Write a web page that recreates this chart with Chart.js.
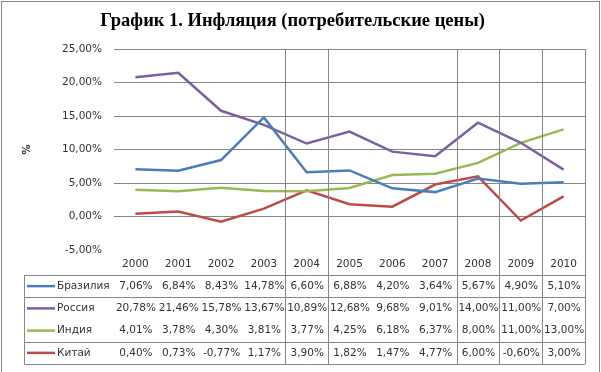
<!DOCTYPE html>
<html><head><meta charset="utf-8">
<script src="https://cdn.jsdelivr.net/npm/chart.js@4.4.0/dist/chart.umd.min.js"></script>
<style>html,body{margin:0;padding:0;background:#fff;}canvas{display:block;}</style>
</head><body>
<canvas id="c" width="601" height="372"></canvas>
<script>
const years = ['2000','2001','2002','2003','2004','2005','2006','2007','2008','2009','2010'];
const seriesNames = ['Бразилия','Россия','Индия','Китай'];
const brazil = [7.06,6.84,8.43,14.78,6.60,6.88,4.20,3.64,5.67,4.90,5.10];
const russia = [20.78,21.46,15.78,13.67,10.89,12.68,9.68,9.01,14.00,11.00,7.00];
const india = [4.01,3.78,4.30,3.81,3.77,4.25,6.18,6.37,8.00,11.00,13.00];
const china = [0.40,0.73,-0.77,1.17,3.90,1.82,1.47,4.77,6.00,-0.60,3.00];
const yTicks = [-5,0,5,10,15,20,25];
const colors = ['#4A7EBB','#7D60A0','#98B954','#BE4B48'];
const titleText = 'График 1. Инфляция (потребительские цены)';
const yTitle = '%';

const fmt = v => v.toFixed(2).replace('.', ',') + '%';
const FONT = '"DejaVu Sans", sans-serif';
const TXT = '#333333';
const GRID = '#868686';
const vLineIdx = [4,5,8,9,10,11];

const tablePlugin = {
  id: 'tablePlugin',
  beforeDraw(chart) {
    const ctx = chart.ctx;
    ctx.save();
    ctx.fillStyle = '#fff';
    ctx.fillRect(0,0,chart.width,chart.height);
    ctx.strokeStyle = GRID;
    ctx.lineWidth = 1;
    ctx.strokeRect(1.5, 1.5, chart.width - 3, chart.height + 5);
    ctx.restore();
  },
  afterDraw(chart) {
    const ctx = chart.ctx;
    const xs = chart.scales.x;
    const area = chart.chartArea;
    const step = xs.getPixelForValue(1) - xs.getPixelForValue(0);
    const tTop = area.bottom + 25;
    const rowH = 22.25;
    const tBottom = tTop + rowH * 4;
    const tLeft = 24.5;
    ctx.save();
    ctx.strokeStyle = GRID;
    ctx.lineWidth = 1;
    ctx.beginPath();
    vLineIdx.forEach(i => {
      const x = Math.round(xs.getPixelForValue(i) - step / 2) + 0.5;
      ctx.moveTo(x, area.top);
      ctx.lineTo(x, tBottom);
    });
    ctx.moveTo(tLeft, tTop); ctx.lineTo(tLeft, tBottom);
    [0,1,3,4].forEach(r => {
      const y = Math.round(tTop + r * rowH) + 0.5;
      ctx.moveTo(tLeft, y); ctx.lineTo(area.right, y);
    });
    ctx.stroke();
    const data = chart.data.datasets;
    ctx.font = '10.5px ' + FONT;
    ctx.textBaseline = 'middle';
    data.forEach((ds, r) => {
      const cy = tTop + rowH * (r + 0.5);
      ctx.strokeStyle = ds.borderColor;
      ctx.lineWidth = 2.5;
      ctx.beginPath(); ctx.moveTo(27, cy); ctx.lineTo(55, cy); ctx.stroke();
      ctx.fillStyle = TXT;
      ctx.textAlign = 'left';
      ctx.fillText(ds.label, 57, cy);
      ctx.textAlign = 'center';
      ds.data.forEach((v, i) => {
        ctx.fillText(fmt(v), xs.getPixelForValue(i) + 0.5, cy);
      });
    });
    ctx.restore();
  }
};

new Chart(document.getElementById('c'), {
  type: 'line',
  data: {
    labels: years,
    datasets: [brazil, russia, india, china].map((d, i) => ({
      label: seriesNames[i], data: d, borderColor: colors[i], backgroundColor: colors[i],
      borderWidth: 2.5, pointRadius: 0, tension: 0, fill: false
    }))
  },
  options: {
    responsive: false, animation: false, devicePixelRatio: 1,
    layout: { padding: { left: 0, right: 16, top: 0, bottom: 0 } },
    plugins: {
      legend: { display: false },
      tooltip: { enabled: false },
      title: {
        display: true, text: titleText, color: '#000',
        font: { family: '"Liberation Serif", "Times New Roman", serif', size: 18.5, weight: 'bold' },
        padding: { top: 10.5, bottom: 16.3 }
      }
    },
    scales: {
      x: {
        offset: true,
        grid: { display: false },
        border: { display: false },
        ticks: { color: TXT, font: { family: FONT, size: 10.5 }, padding: 0, autoSkip: false, maxRotation: 0 },
        afterFit(s) { s.height = 122; }
      },
      y: {
        min: -5, max: 25,
        afterBuildTicks(s) { s.ticks = yTicks.map(v => ({ value: v })); },
        grid: { drawTicks: false, color: c => (c.tick && c.tick.value === -5) ? 'rgba(0,0,0,0)' : GRID, lineWidth: 1 },
        border: { display: false },
        ticks: { color: TXT, font: { family: FONT, size: 10.5 }, padding: 12, callback: v => fmt(v) },
        title: { display: true, text: yTitle, color: TXT, font: { family: FONT, size: 10, weight: 'bold' }, padding: { top: 21, bottom: 0 } },
        afterFit(s) { s.width = 114; }
      }
    }
  },
  plugins: [tablePlugin]
});
</script>
</body></html>
